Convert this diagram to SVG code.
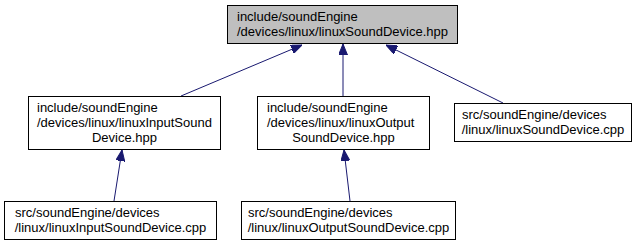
<svg xmlns="http://www.w3.org/2000/svg" width="641" height="245" viewBox="0 0 641 245">
  <style>
    .box { fill: #ffffff; stroke: #000000; stroke-width: 1; }
    .root { fill: #bfbfbf; }
    .lbl { font-family: "Liberation Sans", Arial, sans-serif; font-size: 13px; fill: #000000; }
    .mid { text-anchor: middle; }
    .edge { fill: none; stroke: #191970; stroke-width: 1; }
  </style>
  <defs>
    <marker id="arrow" viewBox="0 0 11 9" refX="11" refY="4.5" markerWidth="11" markerHeight="9" markerUnits="userSpaceOnUse" orient="auto">
      <path d="M0,0 L11,4.5 L0,9 z" fill="#191970" stroke="#191970" stroke-width="1"/>
    </marker>
  </defs>

  <!-- dependency edges: each points at the header it includes -->
  <g id="edges">
    <path class="edge" d="M181,96 L302,45" marker-end="url(#arrow)"/>
    <path class="edge" d="M343,96 L343,44" marker-end="url(#arrow)"/>
    <path class="edge" d="M503,103 L386,45" marker-end="url(#arrow)"/>
    <path class="edge" d="M114,201 L122,150" marker-end="url(#arrow)"/>
    <path class="edge" d="M350,201 L344,150" marker-end="url(#arrow)"/>
  </g>

  <g id="node-linuxSoundDevice-hpp">
    <rect class="box root" x="227.5" y="5.5" width="230" height="38"/>
    <text class="lbl" x="237" y="21">include/soundEngine</text>
    <text class="lbl mid" x="342.5" y="36">/devices/linux/linuxSoundDevice.hpp</text>
  </g>

  <g id="node-linuxInputSoundDevice-hpp">
    <rect class="box" x="28.5" y="96.5" width="192" height="53"/>
    <text class="lbl" x="37" y="112">include/soundEngine</text>
    <text class="lbl" x="37" y="127">/devices/linux/linuxInputSound</text>
    <text class="lbl mid" x="124.5" y="142">Device.hpp</text>
  </g>

  <g id="node-linuxOutputSoundDevice-hpp">
    <rect class="box" x="257.5" y="96.5" width="172" height="53"/>
    <text class="lbl" x="267" y="112">include/soundEngine</text>
    <text class="lbl" x="267" y="127">/devices/linux/linuxOutput</text>
    <text class="lbl mid" x="343.5" y="142">SoundDevice.hpp</text>
  </g>

  <g id="node-linuxSoundDevice-cpp">
    <rect class="box" x="454.5" y="103.5" width="177" height="38"/>
    <text class="lbl" x="462" y="119">src/soundEngine/devices</text>
    <text class="lbl mid" x="543" y="134">/linux/linuxSoundDevice.cpp</text>
  </g>

  <g id="node-linuxInputSoundDevice-cpp">
    <rect class="box" x="4.5" y="201.5" width="212" height="38"/>
    <text class="lbl" x="15" y="217">src/soundEngine/devices</text>
    <text class="lbl mid" x="110.5" y="232">/linux/linuxInputSoundDevice.cpp</text>
  </g>

  <g id="node-linuxOutputSoundDevice-cpp">
    <rect class="box" x="241.5" y="201.5" width="214" height="38"/>
    <text class="lbl" x="248" y="217">src/soundEngine/devices</text>
    <text class="lbl mid" x="348.5" y="232">/linux/linuxOutputSoundDevice.cpp</text>
  </g>
</svg>
